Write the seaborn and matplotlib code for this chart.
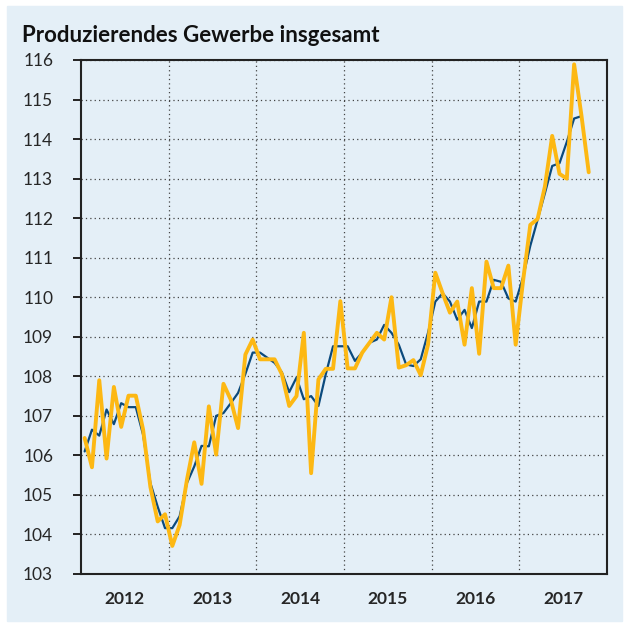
import numpy as np
import pandas as pd
import matplotlib
matplotlib.use('Agg')
import matplotlib.pyplot as plt
from matplotlib.patches import Rectangle
import seaborn as sns

# monthly index values, Jan 2012 onwards
actual = [
    106.44, 105.70, 107.90, 105.92, 107.73, 106.72, 107.51, 107.51, 106.65, 105.20, 104.33, 104.51,  # 2012
    103.71, 104.24, 105.38, 106.33, 105.28, 107.24, 106.02, 107.81, 107.41, 106.69, 108.55, 108.93,  # 2013
    108.43, 108.43, 108.43, 108.05, 107.25, 107.50, 109.10, 105.55, 107.92, 108.19, 108.19, 109.90,  # 2014
    108.20, 108.20, 108.60, 108.85, 109.10, 108.93, 110.00, 108.22, 108.28, 108.41, 108.03, 108.80,  # 2015
    110.62, 110.10, 109.61, 109.89, 108.80, 110.23, 108.57, 110.90, 110.23, 110.23, 110.80, 108.80,  # 2016
    110.40, 111.83, 111.98, 112.80, 114.08, 113.12, 113.00, 115.89, 114.60, 113.16,                  # 2017
]
trend = [
    106.10, 106.65, 106.50, 107.16, 106.79, 107.32, 107.22, 107.22, 106.52, 105.30, 104.70, 104.16,
    104.16, 104.46, 105.30, 105.72, 106.24, 106.23, 107.00, 107.07, 107.32, 107.58, 108.06, 108.60,
    108.60, 108.47, 108.34, 108.10, 107.60, 107.97, 107.42, 107.50, 107.25, 108.05, 108.76, 108.76,
    108.76, 108.39, 108.60, 108.85, 108.93, 109.30, 109.10, 108.80, 108.30, 108.26, 108.43, 109.10,
    109.89, 110.10, 109.89, 109.43, 109.68, 109.22, 109.89, 109.89, 110.44, 110.39, 109.97, 109.89,
    110.50, 111.30, 111.96, 112.63, 113.32, 113.39, 113.93, 114.52, 114.58,
]
years = [2012, 2013, 2014, 2015, 2016, 2017]
y_ticks = list(range(103, 117))

bg = '#e4eff7'
yellow = '#fdb813'
blue = '#0b4a7d'

sns.set_theme(style='white')
plt.rcParams['font.family'] = ['Lato', 'DejaVu Sans']

df_act = pd.DataFrame({'x': [years[0] + (i + 0.5) / 12 for i in range(len(actual))], 'wert': actual})
df_trend = pd.DataFrame({'x': [years[0] + (i + 0.5) / 12 for i in range(len(trend))], 'wert': trend})

fig = plt.figure(figsize=(6.27, 6.26), dpi=100)
fig.patch.set_facecolor('white')
fig.patches.append(Rectangle((7 / 627, 5 / 626), 615 / 627, 615 / 626,
                             transform=fig.transFigure, color=bg, zorder=-1))
ax = fig.add_axes([81 / 627, 52 / 626, 526 / 627, 514 / 626])
ax.set_facecolor(bg)

sns.lineplot(data=df_trend, x='x', y='wert', color=blue, linewidth=1.6, ax=ax, zorder=3)
sns.lineplot(data=df_act, x='x', y='wert', color=yellow, linewidth=2.8, ax=ax, zorder=4)

ax.set_xlim(years[0], years[-1] + 1)
ax.set_ylim(y_ticks[0], y_ticks[-1])
ax.set_yticks(y_ticks)
ax.set_yticklabels([str(t) for t in y_ticks], fontsize=12.5)
ax.set_xticks([y + 1 for y in years[:-1]])
ax.set_xticklabels([])
ax.set_xticks([y + 0.5 for y in years], minor=True)
ax.set_xticklabels([str(y) for y in years], minor=True, fontsize=12.5, fontweight='bold')
ax.tick_params(axis='x', which='both', length=0, pad=12)
ax.tick_params(axis='y', length=6, width=1.4, color='#222222', pad=14, left=True, direction='out')
ax.set_xlabel('')
ax.set_ylabel('')

ax.grid(True, which='major', color='#444444', linestyle=(0, (1, 2.5)), linewidth=0.9)
for s in ax.spines.values():
    s.set_color('#222222')
    s.set_linewidth(1.5)

fig.text(22 / 627, 1 - 42 / 626, 'Produzierendes Gewerbe insgesamt', fontsize=16,
         fontweight='bold', ha='left', va='baseline', color='#111111')

fig.savefig('out.png', dpi=100, facecolor=fig.get_facecolor())
